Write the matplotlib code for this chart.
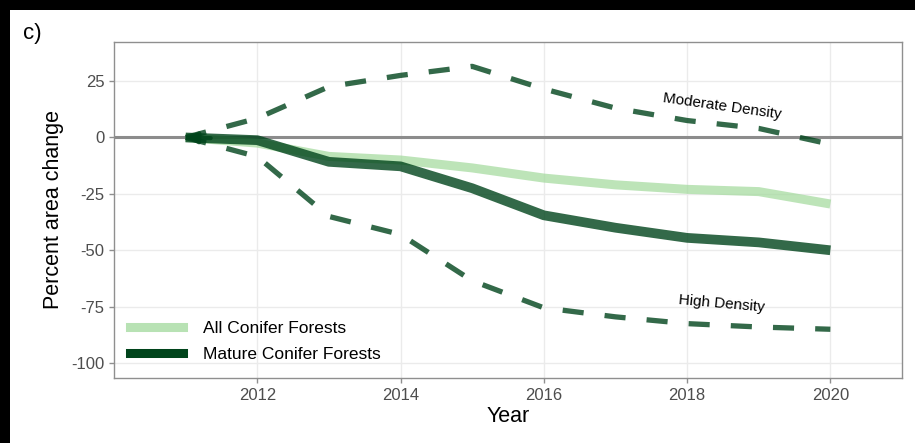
import matplotlib
matplotlib.use("Agg")
import matplotlib.pyplot as plt
from matplotlib.patches import Rectangle
from matplotlib.lines import Line2D

plt.rcParams["font.family"] = ["Liberation Sans", "DejaVu Sans"]

years = [2011, 2012, 2013, 2014, 2015, 2016, 2017, 2018, 2019, 2020]
all_conifer = [0, -2.5, -8.4, -10, -13.5, -18, -21, -23, -24, -29.5]
mature_conifer = [0, -1.2, -10.8, -12.8, -22.5, -34.5, -40, -44.5, -46.5, -50]
moderate_density = [0, 8.5, 22.5, 27.5, 31.5, 21.5, 13, 7.5, 4, -3]
high_density = [0, -8.5, -35, -43, -63.5, -75.5, -79.5, -82.5, -84, -85]

xticks = [2012, 2014, 2016, 2018, 2020]
yticks = [25, 0, -25, -50, -75, -100]
legend_labels = ["All Conifer Forests", "Mature Conifer Forests"]

light = "#a1d99b"
dark = "#00441b"

fig = plt.figure(figsize=(9.15, 4.43), dpi=100)
fig.patch.set_facecolor("white")
ax = fig.add_axes([114/915, 1-378/443, (902-114)/915, (378-42)/443])

ax.set_xlim(2010.0, 2021.0)
ax.set_ylim(-106.6, 42.3)
ax.set_xticks(xticks)
ax.set_yticks(yticks)
ax.set_xticklabels([str(t) for t in xticks])
ax.set_yticklabels([str(t) for t in yticks])
ax.grid(True, color="#ebebeb", lw=1.0)
ax.set_axisbelow(True)
for s in ax.spines.values():
    s.set_color("#8f8f8f")
    s.set_linewidth(1.0)
ax.tick_params(axis="both", colors="#8f8f8f", labelcolor="#4d4d4d",
               labelsize=12, length=3.5, width=1.0)

ax.axhline(0, color="#8c8c8c", lw=2.2, zorder=1)

ax.plot(years, all_conifer, color=light, alpha=0.7, lw=6.5, solid_capstyle="butt", zorder=3)
ax.plot(years, mature_conifer, color=dark, alpha=0.8, lw=7, solid_capstyle="butt",
        solid_joinstyle="round", zorder=4)
ax.annotate("", xy=(years[0], mature_conifer[0]), xytext=(years[0] + 0.35, mature_conifer[0] - 0.3),
            arrowprops=dict(arrowstyle="-|>", color=dark, alpha=0.8, lw=3,
                            mutation_scale=16, shrinkA=0, shrinkB=0), zorder=5)

for vals in (moderate_density, high_density):
    ln, = ax.plot(years, vals, color=dark, alpha=0.8, lw=3.8, dash_capstyle="butt", zorder=3)
    ln.set_dashes([4, 4])

ax.text(2018.49, 13.7, "Moderate Density", fontsize=11, rotation=-8,
        ha="center", va="center", color="black")
ax.text(2018.48, -73.9, "High Density", fontsize=11, rotation=-5,
        ha="center", va="center", color="black")

ax.set_xlabel("Year", fontsize=15.5, labelpad=2)
ax.set_ylabel("Percent area change", fontsize=15.5, labelpad=5)

handles = [Line2D([0], [0], color=light, alpha=0.75, lw=6.5),
           Line2D([0], [0], color=dark, lw=6.5)]
ax.legend(handles, legend_labels, loc="lower left", bbox_to_anchor=(0.0, 0.0),
          frameon=False, fontsize=12.5, handlelength=3.1, handletextpad=1.1,
          labelspacing=0.65, borderaxespad=0.5)

fig.text(23/915, 1-33/443, "c)", fontsize=16, ha="left", va="center")

fig.add_artist(Rectangle((0, 1-10/443), 1, 10/443, transform=fig.transFigure,
                         facecolor="black", edgecolor="none"))
fig.add_artist(Rectangle((0, 0), 10/915, 1, transform=fig.transFigure,
                         facecolor="black", edgecolor="none"))

fig.savefig("out.png", dpi=100)
